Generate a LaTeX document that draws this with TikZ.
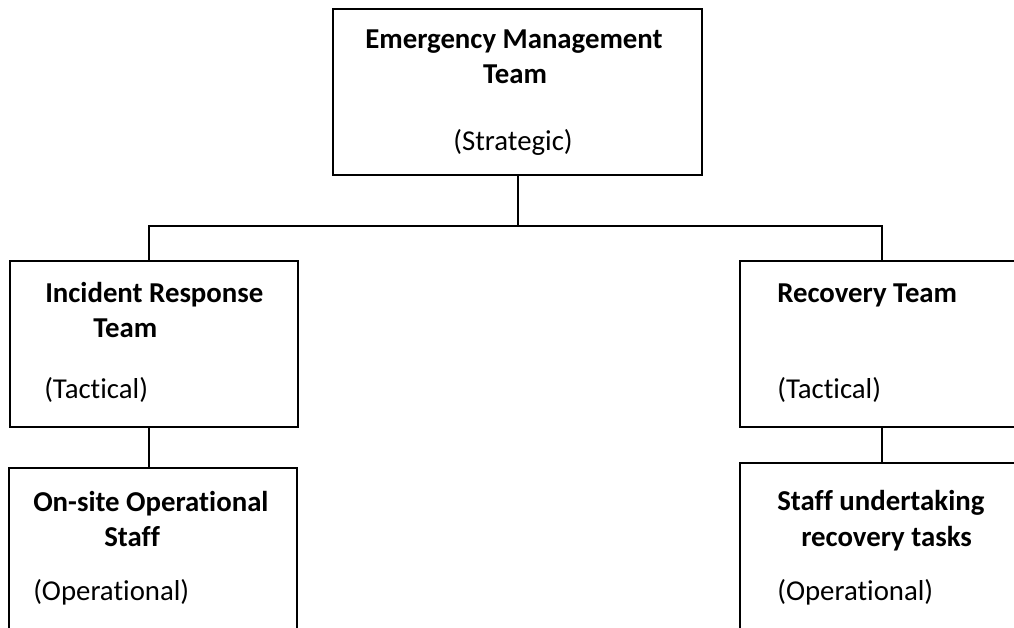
\documentclass[tikz,border=0pt]{standalone}
\usepackage{fontspec}
\setmainfont[Ligatures={NoCommon}]{Carlito}
\usepackage{tikz}

\begin{document}
\begin{tikzpicture}[x=0.75pt,y=0.75pt,yscale=-1,xscale=1,
  box/.style={draw, line width=1.5pt, inner sep=0pt, minimum width=216pt, minimum height=124.5pt},
  link/.style={line width=1.5pt},
  head/.style={inner sep=0pt, font=\fontsize{21.6}{26}\selectfont\bfseries},
  level/.style={inner sep=0pt, font=\fontsize{21.6}{26}\selectfont}]
  \useasboundingbox (0,0) rectangle (1014,628); %set diagram to 1014 x 628
  \clip (0,0) rectangle (1014,628);
  %Shape: Rectangle [id:emt]
  \node [box, minimum width=276.75pt] (emt) at (517.5,92) {};
  %Shape: Rectangle [id:irt]
  \node [box] (irt) at (154,344) {};
  %Shape: Rectangle [id:oos]
  \node [box] (oos) at (153,551) {};
  %Shape: Rectangle [id:rt]
  \node [box, minimum height=124.5pt] (rt) at (884,344) {};
  %Shape: Rectangle [id:sut]
  \node [box] (sut) at (884,546) {};

  %Straight Lines [id:bus]
  \coordinate (bus) at (517.5,226);
  \draw [link] (emt.south) -- (bus);
  \draw [link] ([xshift=-3.75pt]irt.north) |- (bus) -| ([xshift=-1.5pt]rt.north);
  %Straight Lines [id:left]
  \draw [link] ([xshift=-3.75pt]irt.south) -- ([xshift=-3pt]oos.north);
  %Straight Lines [id:right]
  \draw [link] ([xshift=-1.5pt]rt.south) -- ([xshift=-1.5pt]sut.north);

  % Text Node
  \draw (514,48) node [head, anchor=base] (emtA) {Emergency Management};
  \draw (515,83) node [head, anchor=base] (emtB) {Team};
  \draw (513,150) node [level, anchor=base] (emtC) {(Strategic)};
  % Text Node
  \draw (45,302) node [head, anchor=base west] (irtA) {Incident Response};
  \draw (93,337) node [head, anchor=base west] (irtB) {Team};
  \draw (44,398) node [level, anchor=base west] (irtC) {(Tactical)};
  % Text Node
  \draw (33,511) node [head, anchor=base west] (oosA) {On-site Operational};
  \draw (104,546) node [head, anchor=base west] (oosB) {Staff};
  \draw (33,600) node [level, anchor=base west] (oosC) {(Operational)};
  % Text Node
  \draw (777,302) node [head, anchor=base west] (rtA) {Recovery Team};
  \draw (777,398) node [level, anchor=base west] (rtC) {(Tactical)};
  % Text Node
  \draw (777,510) node [head, anchor=base west] (sutA) {Staff undertaking};
  \draw (801,546) node [head, anchor=base west] (sutB) {recovery tasks};
  \draw (777,600) node [level, anchor=base west] (sutC) {(Operational)};
\end{tikzpicture}
\end{document}
